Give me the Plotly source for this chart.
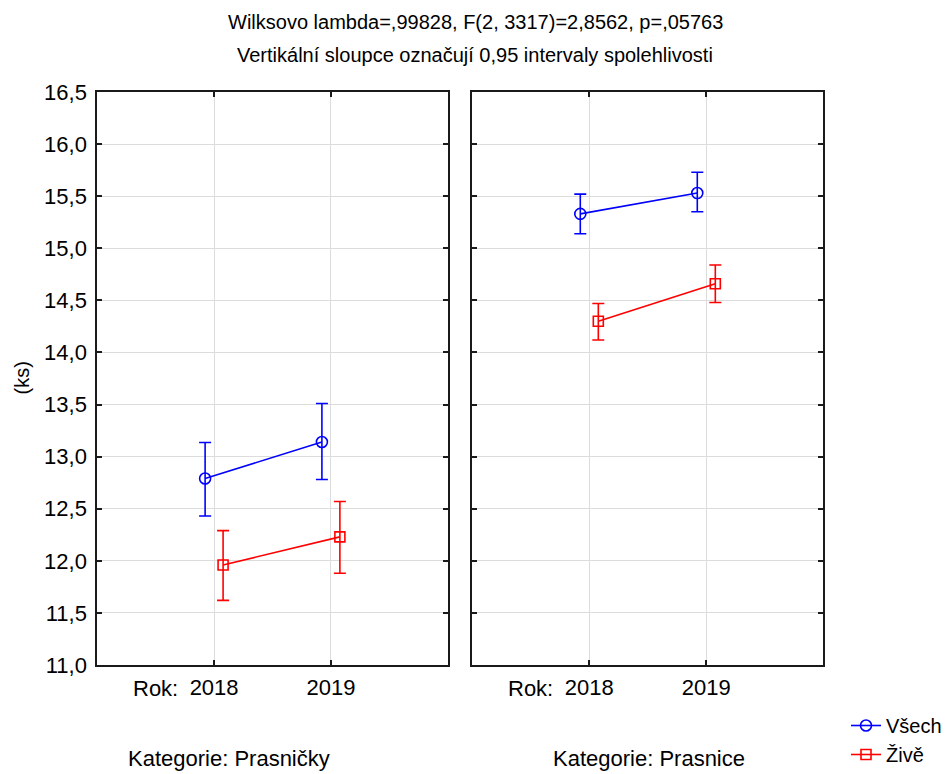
import plotly.graph_objects as go

# ---- data ----
years = ["2018", "2019"]
year_pos = [1, 2]
categories = ["Prasničky", "Prasnice"]
series_names = ["Všech", "Živě"]

# Kategorie: Prasničky
prasnicky_vsech_mean = [12.79, 13.14]
prasnicky_vsech_low = [12.43, 12.78]
prasnicky_vsech_high = [13.135, 13.51]
prasnicky_zive_mean = [11.96, 12.23]
prasnicky_zive_low = [11.62, 11.88]
prasnicky_zive_high = [12.29, 12.57]

# Kategorie: Prasnice
prasnice_vsech_mean = [15.33, 15.53]
prasnice_vsech_low = [15.14, 15.35]
prasnice_vsech_high = [15.52, 15.73]
prasnice_zive_mean = [14.30, 14.66]
prasnice_zive_low = [14.12, 14.48]
prasnice_zive_high = [14.47, 14.84]

y_ticks = [11.0, 11.5, 12.0, 12.5, 13.0, 13.5, 14.0, 14.5, 15.0, 15.5, 16.0, 16.5]

title1 = "Wilksovo lambda=,99828, F(2, 3317)=2,8562, p=,05763"
title2 = "Vertikální sloupce označují 0,95 intervaly spolehlivosti"

FONT = "Liberation Sans, Arial, sans-serif"
BLUE = "#0000ff"
RED = "#ff0000"
offset = 0.077

panels = [
    (prasnicky_vsech_mean, prasnicky_vsech_low, prasnicky_vsech_high,
     prasnicky_zive_mean, prasnicky_zive_low, prasnicky_zive_high),
    (prasnice_vsech_mean, prasnice_vsech_low, prasnice_vsech_high,
     prasnice_zive_mean, prasnice_zive_low, prasnice_zive_high),
]

fig = go.Figure()

for i, (vm, vl, vh, zm, zl, zh) in enumerate(panels):
    xa = "x" if i == 0 else "x2"
    ya = "y" if i == 0 else "y2"
    for name, m, lo, hi, color, sym, dx, sz in [
        (series_names[0], vm, vl, vh, BLUE, "circle-open", -offset, 11),
        (series_names[1], zm, zl, zh, RED, "square-open", offset, 10),
    ]:
        fig.add_trace(go.Scatter(
            x=[p + dx for p in year_pos], y=m,
            mode="lines+markers",
            name=name,
            legendgroup=name,
            showlegend=(i == 0),
            line=dict(color=color, width=1.6),
            marker=dict(symbol=sym, size=sz, color=color, line=dict(width=1.6, color=color)),
            error_y=dict(type="data", symmetric=False,
                         array=[h - v for h, v in zip(hi, m)],
                         arrayminus=[v - l for v, l in zip(m, lo)],
                         color=color, thickness=1.6, width=6),
            xaxis=xa, yaxis=ya,
        ))

xdom = [[97.3 / 949, 447.7 / 949], [472.3 / 949, 823.3 / 949]]
ydom = [(774 - 665) / 774, (774 - 92) / 774]

axis_common = dict(
    showline=True, linecolor="#1a1a1a", linewidth=2, mirror="ticks",
    ticks="inside", ticklen=5, tickwidth=2, tickcolor="#1a1a1a",
    showgrid=True, gridcolor="#dcdcdc", gridwidth=1, zeroline=False,
    automargin=False,
    tickfont=dict(family=FONT, size=22, color="#000"),
)

fig.update_layout(
    xaxis=dict(domain=xdom[0], range=[0, 3], tickvals=year_pos, ticktext=years,
               ticklabelstandoff=2, **axis_common),
    xaxis2=dict(domain=xdom[1], range=[0, 3], tickvals=year_pos, ticktext=years,
                ticklabelstandoff=2, anchor="y2", **axis_common),
    yaxis=dict(domain=ydom, range=[11, 16.5], tickvals=y_ticks, tickformat=".1f",
               ticklabelstandoff=4, **axis_common),
    yaxis2=dict(domain=ydom, range=[11, 16.5], tickvals=y_ticks, showticklabels=False,
                anchor="x2", **axis_common),
)

annotations = [
    dict(text=title1, x=475 / 949, y=1 - 22 / 774, xref="paper", yref="paper",
         xanchor="center", yanchor="middle", showarrow=False,
         font=dict(family=FONT, size=20, color="#000")),
    dict(text=title2, x=475 / 949, y=1 - 55 / 774, xref="paper", yref="paper",
         xanchor="center", yanchor="middle", showarrow=False,
         font=dict(family=FONT, size=20, color="#000")),
    dict(text="(ks)", x=22 / 949, y=(ydom[0] + ydom[1]) / 2, xref="paper", yref="paper",
         xanchor="center", yanchor="middle", textangle=-90, showarrow=False,
         font=dict(family=FONT, size=20, color="#000")),
]
for xr, cx, cat in [("x", 229 / 949, categories[0]), ("x2", 649 / 949, categories[1])]:
    annotations.append(dict(text="Rok:", x=0.5, xref=xr, y=1 - 688 / 774, yref="paper",
                            xanchor="center", yanchor="middle", showarrow=False,
                            font=dict(family=FONT, size=22, color="#000")))
    annotations.append(dict(text="Kategorie: " + cat, x=cx, xref="paper", y=1 - 758 / 774,
                            yref="paper", xanchor="center", yanchor="middle", showarrow=False,
                            font=dict(family=FONT, size=22, color="#000")))

fig.update_layout(
    width=949, height=774,
    margin=dict(l=0, r=0, t=0, b=0),
    paper_bgcolor="white", plot_bgcolor="white",
    separators=", ",
    annotations=annotations,
    showlegend=True,
    legend=dict(x=846 / 949, y=0, xanchor="left", yanchor="bottom",
                font=dict(family=FONT, size=20, color="#000"),
                bgcolor="rgba(0,0,0,0)", borderwidth=0, tracegroupgap=0,
                itemwidth=30),
)

fig.write_html("out.html")
